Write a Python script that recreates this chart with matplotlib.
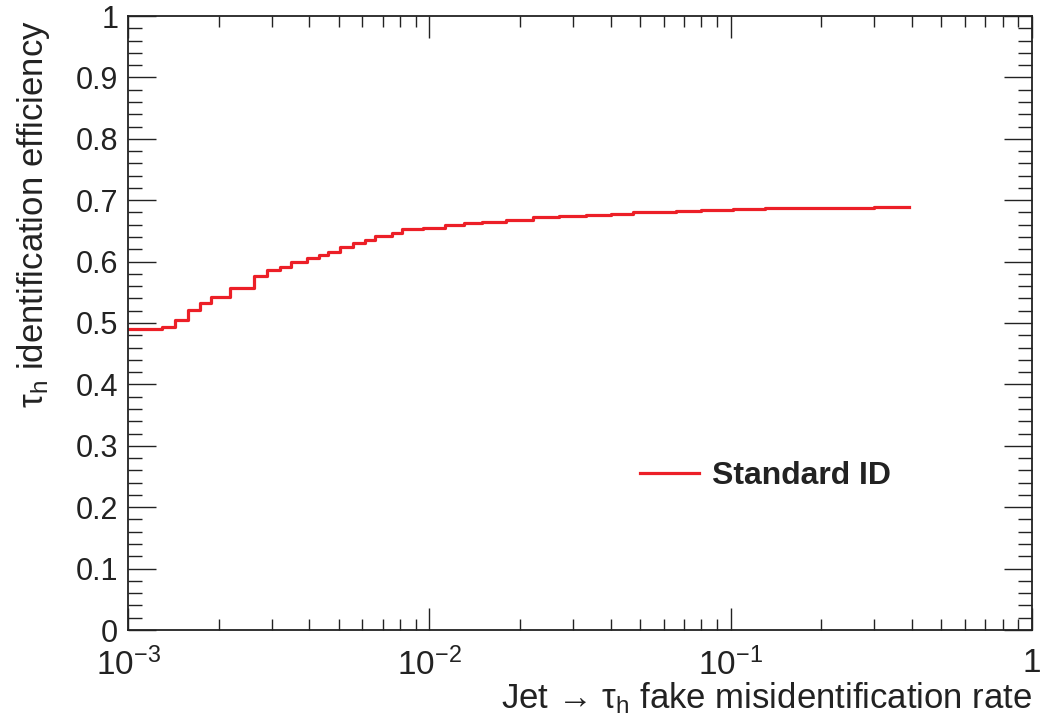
import matplotlib
matplotlib.use('Agg')
import matplotlib.pyplot as plt
from matplotlib.ticker import FixedLocator, FuncFormatter, MultipleLocator

plt.rcParams['font.family'] = ['Liberation Sans', 'DejaVu Sans']
plt.rcParams['mathtext.fontset'] = 'custom'
plt.rcParams['mathtext.rm'] = 'Liberation Sans'
plt.rcParams['mathtext.it'] = 'Liberation Sans:italic'
plt.rcParams['mathtext.bf'] = 'Liberation Sans:bold'

# ROC curve (step curve)
fake_rate = [0.001, 0.0012, 0.0013, 0.00143, 0.00158, 0.00173, 0.00189, 0.00218,
             0.00261, 0.00289, 0.00320, 0.00347, 0.00392, 0.00430, 0.00461,
             0.00505, 0.00560, 0.00612, 0.00661, 0.0075, 0.0081, 0.0095,
             0.0113, 0.0130, 0.0150, 0.0180, 0.0221, 0.027, 0.033, 0.040,
             0.0474, 0.056, 0.066, 0.080, 0.102, 0.13, 0.17, 0.22, 0.30, 0.39]
efficiency = [0.490, 0.491, 0.493, 0.505, 0.521, 0.533, 0.542, 0.557,
              0.577, 0.587, 0.592, 0.599, 0.606, 0.610, 0.616,
              0.624, 0.630, 0.635, 0.642, 0.646, 0.653, 0.655,
              0.660, 0.663, 0.665, 0.668, 0.672, 0.674, 0.676, 0.678,
              0.680, 0.681, 0.683, 0.684, 0.686, 0.687, 0.688, 0.688, 0.689, 0.689]

x_ticks = [1e-3, 1e-2, 1e-1, 1]
x_tick_labels = [r'$10^{-3}$', r'$10^{-2}$', r'$10^{-1}$', '1']
y_ticks = [0, 0.1, 0.2, 0.3, 0.4, 0.5, 0.6, 0.7, 0.8, 0.9, 1]
y_tick_labels = ['0', '0.1', '0.2', '0.3', '0.4', '0.5', '0.6', '0.7', '0.8', '0.9', '1']

fig = plt.figure(figsize=(10.52, 7.25), dpi=100)
ax = fig.add_axes([128/1052, 1 - 630/725, 904/1052, 614/725])

ax.step(fake_rate, efficiency, where='post', color='#ec1f27', lw=2.3, label='Standard ID')

ax.set_xscale('log')
ax.set_xlim(1e-3, 1)
ax.set_ylim(0, 1)

ax.xaxis.set_major_locator(FixedLocator(x_ticks))
ax.xaxis.set_major_formatter(FuncFormatter(lambda v, p: x_tick_labels[x_ticks.index(min(x_ticks, key=lambda t: abs(t - v)))]))
ax.yaxis.set_major_locator(FixedLocator(y_ticks))
ax.yaxis.set_major_formatter(FuncFormatter(lambda v, p: y_tick_labels[int(round(v * 10))]))
ax.yaxis.set_minor_locator(MultipleLocator(0.02))

ax.tick_params(which='both', direction='in', top=True, right=True, width=1.0, colors='#222222')
ax.tick_params(axis='y', which='major', length=20, pad=7, labelsize=22)
ax.tick_params(axis='y', which='minor', length=10)
ax.tick_params(axis='x', which='major', length=16, pad=13, labelsize=24)
ax.tick_params(axis='x', which='minor', length=8)
for s in ax.spines.values():
    s.set_linewidth(1.3)
    s.set_color('#222222')

ax.set_xlabel('Jet → τ$_\\mathrm{h}$ fake misidentification rate', fontsize=25, color='#222222')
ax.xaxis.set_label_coords(1.0, -0.082)
ax.xaxis.label.set_horizontalalignment('right')
ax.set_ylabel('τ$_\\mathrm{h}$ identification efficiency', fontsize=25, color='#222222')
ax.yaxis.set_label_coords(-0.105, 0.993)
ax.yaxis.label.set_verticalalignment('center')
ax.yaxis.label.set_horizontalalignment('right')

leg = ax.legend(loc='center left', bbox_to_anchor=(0.566, 0.251), frameon=False,
                borderaxespad=0, borderpad=0, handlelength=1.87, handletextpad=0.4,
                prop={'weight': 'bold', 'size': 23})
for t in leg.get_texts():
    t.set_color('#222222')

fig.savefig('out.png', dpi=100)
